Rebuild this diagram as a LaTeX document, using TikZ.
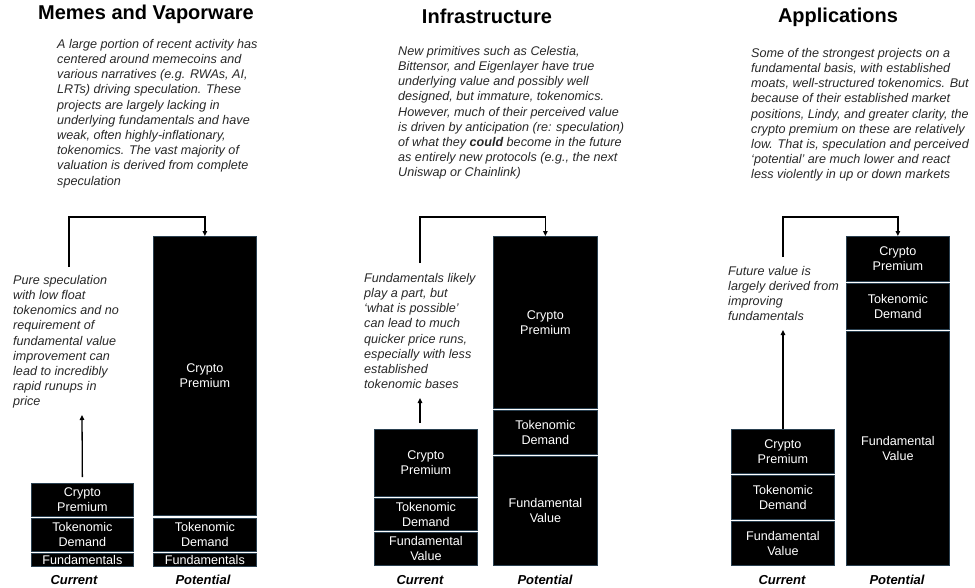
\documentclass[tikz,border=0pt]{standalone}
\usepackage{fontspec}
\setmainfont{Liberation Sans}
\usetikzlibrary{arrows.meta,positioning}
\definecolor{segedge}{RGB}{42,64,80}
\definecolor{notegray}{RGB}{40,40,40}
\tikzset{vhead/.style={font=\fontsize{20}{24}\selectfont\bfseries},
         vdesc/.style={anchor=north west,align=left,inner sep=0pt,text=notegray,font=\fontsize{12.6}{15.2}\selectfont\itshape},
         vseg/.style={anchor=north west,fill=black,draw=segedge,line width=0.8pt,text=white,align=center,inner sep=0pt,font=\fontsize{12.6}{15}\selectfont},
         vlab/.style={font=\fontsize{13}{15}\selectfont\bfseries\itshape},
         vcon/.style={line width=1.3pt,-{Triangle[length=5pt,width=4.5pt]}}}

\begin{document}
\begin{tikzpicture}[x=1pt,y=-1pt]
  \useasboundingbox (0,0) rectangle (975,587);
  % headings
  \node[vhead] (h1) at (146,14) {Memes and Vaporware};
  \node[vhead] (h2) at (487,16) {Infrastructure};
  \node[vhead] (h3) at (838,17) {Applications};
  % descriptions
  \node[vdesc] (d1) at (57,39) {A large portion of recent activity has\\
    centered around memecoins and\\
    various narratives (e.g. RWAs, AI,\\
    LRTs) driving speculation. These\\
    projects are largely lacking in\\
    underlying fundamentals and have\\
    weak, often highly-inflationary,\\
    tokenomics. The vast majority of\\
    valuation is derived from complete\\
    speculation};
  \node[vdesc] (d2) at (398,46) {New primitives such as Celestia,\\
    Bittensor, and Eigenlayer have true\\
    underlying value and possibly well\\
    designed, but immature, tokenomics.\\
    However, much of their perceived value\\
    is driven by anticipation (re: speculation)\\
    of what they \textbf{could} become in the future\\
    as entirely new protocols (e.g., the next\\
    Uniswap or Chainlink)};
  \node[vdesc] (d3) at (751,48) {Some of the strongest projects on a\\
    fundamental basis, with established\\
    moats, well-structured tokenomics. But\\
    because of their established market\\
    positions, Lindy, and greater clarity, the\\
    crypto premium on these are relatively\\
    low. That is, speculation and perceived\\
    ‘potential’ are much lower and react\\
    less violently in up or down markets};
  % notes next to the current bars
  \node[vdesc] (n1) at (13,275) {Pure speculation\\
    with low float\\
    tokenomics and no\\
    requirement of\\
    fundamental value\\
    improvement can\\
    lead to incredibly\\
    rapid runups in\\
    price};
  \node[vdesc] (n2) at (364,273) {Fundamentals likely\\
    play a part, but\\
    ‘what is possible’\\
    can lead to much\\
    quicker price runs,\\
    especially with less\\
    established\\
    tokenomic bases};
  \node[vdesc] (n3) at (728,266) {Future value is\\
    largely derived from\\
    improving\\
    fundamentals};
  % stacked bars
  \foreach \n/\x/\w/\t/\b/\s in {
      c1a/31/102/483/516/{Crypto\\Premium}, c1b/31/102/518/551/{Tokenomic\\Demand}, c1c/31/102/553/566/Fundamentals,
      p1a/153/103/236/515/{Crypto\\Premium}, p1b/153/103/518/551/{Tokenomic\\Demand}, p1c/153/103/553/566/Fundamentals,
      c2a/374/103/429/496/{Crypto\\Premium}, c2b/374/103/498/530/{Tokenomic\\Demand}, c2c/374/103/532/565/{Fundamental\\Value},
      p2a/493/104/236/408/{Crypto\\Premium}, p2b/493/104/410/454/{Tokenomic\\Demand}, p2c/493/104/456/565/{Fundamental\\Value},
      c3a/731/103/429/473/{Crypto\\Premium}, c3b/731/103/475/519/{Tokenomic\\Demand}, c3c/731/103/521/565/{Fundamental\\Value},
      p3a/846/103/236/281/{Crypto\\Premium}, p3b/846/103/283/329/{Tokenomic\\Demand}, p3c/846/103/331/565/{Fundamental\\Value}}
    {\node[vseg,minimum width=\w,minimum height=\b-\t] (\n) at (\x,\t) {\s};}
  % bar labels
  \foreach \n/\x/\s in {l1/74/Current,m1/203/Potential,l2/420/Current,m2/545/Potential,l3/782/Current,m3/897/Potential}
    \node[vlab] (\n) at (\x,580) {\s};
  % connectors
  \coordinate (k1) at (69,267);  \coordinate (u1) at (82,415);
  \coordinate (k2) at (420,263); \coordinate (u2) at (420,398);
  \coordinate (k3) at (783,257); \coordinate (u3) at (783,330);
  \foreach \i in {1,2,3}
    \draw[vcon] (k\i) |- ([yshift=19]p\i a.north) -- (p\i a.north);
  \draw[vcon,shorten <=6pt] (c1a.north) -- (u1);
  \draw[vcon,shorten <=6pt] (c2a.north -| u2) -- (u2);
  \draw[vcon] (c3a.north -| u3) -- (u3);
\end{tikzpicture}
\end{document}
